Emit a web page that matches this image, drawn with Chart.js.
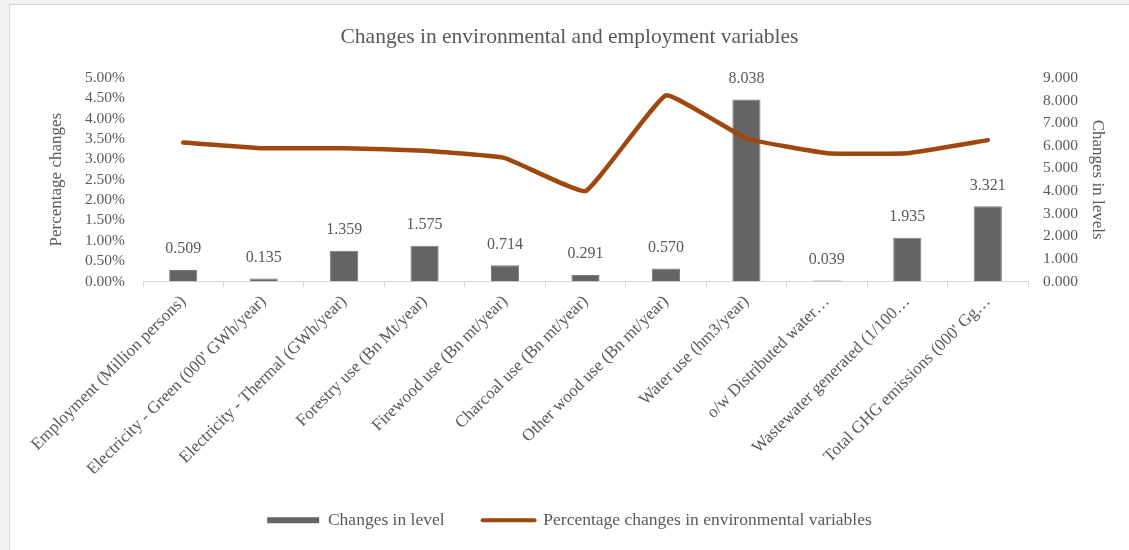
<!DOCTYPE html>
<html>
<head>
<meta charset="utf-8">
<script src="https://cdn.jsdelivr.net/npm/chart.js@4.4.1/dist/chart.umd.min.js"></script>
<style>
  html, body { margin: 0; padding: 0; background: #f2f2f2; width: 1129px; height: 550px; overflow: hidden; }
  #wrap { position: absolute; left: 9px; top: 4px; width: 1120px; height: 546px; background: #ffffff; border-left: 1px solid #d4d4d4; border-top: 1px solid #d4d4d4; box-sizing: border-box; }
  canvas { position: absolute; left: 0; top: 0; }
</style>
</head>
<body>
<div id="wrap"><canvas id="c" width="1119" height="545"></canvas></div>
<script>
const categories = [
  "Employment (Million persons)",
  "Electricity - Green (000' GWh/year)",
  "Electricity - Thermal (GWh/year)",
  "Forestry use (Bn Mt/year)",
  "Firewood use (Bn mt/year)",
  "Charcoal use (Bn mt/year)",
  "Other wood use (Bn mt/year)",
  "Water use (hm3/year)",
  "o/w Distributed water\u2026",
  "Wastewater generated (1/100\u2026",
  "Total GHG emissions (000' Gg\u2026"
];
const levelChanges = [0.509, 0.135, 1.359, 1.575, 0.714, 0.291, 0.570, 8.038, 0.039, 1.935, 3.321];
const percentChanges = [3.41, 3.27, 3.27, 3.21, 3.03, 2.22, 4.57, 3.51, 3.15, 3.15, 3.47];
const leftTicks = [0, 0.5, 1, 1.5, 2, 2.5, 3, 3.5, 4, 4.5, 5];
const rightTicks = [0, 1, 2, 3, 4, 5, 6, 7, 8, 9];

const TEXT = '#595959';
const FONT = "'Liberation Serif', 'DejaVu Serif', serif";
const BAR = '#646464';
const LINE = '#9E480E';

const barLabels = {
  id: 'barLabels',
  afterDatasetsDraw(chart) {
    const meta = chart.getDatasetMeta(1);
    const ctx = chart.ctx;
    ctx.save();
    ctx.font = "16px " + FONT;
    ctx.fillStyle = TEXT;
    ctx.textAlign = 'center';
    ctx.textBaseline = 'middle';
    meta.data.forEach((el, i) => {
      ctx.fillText(levelChanges[i].toFixed(3), el.x, el.y - 21);
    });
    ctx.restore();
  }
};

new Chart(document.getElementById('c'), {
  data: {
    labels: categories,
    datasets: [
      {
        type: 'line',
        label: 'Percentage changes in environmental variables',
        data: percentChanges,
        yAxisID: 'y',
        borderColor: LINE,
        backgroundColor: LINE,
        borderWidth: 4.5,
        pointRadius: 0,
        tension: 0.1,
        borderJoinStyle: 'round',
        borderCapStyle: 'round',
        order: 0
      },
      {
        type: 'bar',
        label: 'Changes in level',
        data: levelChanges,
        yAxisID: 'y1',
        backgroundColor: BAR,
        borderColor: '#7a7a7a',
        borderWidth: 1,
        categoryPercentage: 1,
        barPercentage: 0.35,
        order: 1
      }
    ]
  },
  options: {
    responsive: false,
    animation: false,
    layout: { padding: { left: 0, right: 0, top: 0, bottom: 11 } },
    plugins: {
      tooltip: { enabled: false },
      title: {
        display: true,
        text: 'Changes in environmental and employment variables',
        color: TEXT,
        font: { family: FONT, size: 21.5, weight: 'normal', lineHeight: 1.2 },
        padding: { top: 19, bottom: 28 }
      },
      legend: {
        position: 'bottom',
        reverse: true,
        labels: {
          color: TEXT,
          font: { family: FONT, size: 17.5 },
          usePointStyle: true,
          pointStyleWidth: 52,
          boxHeight: 6,
          padding: 38,
          generateLabels(chart) {
            const items = Chart.defaults.plugins.legend.labels.generateLabels(chart);
            items.forEach(it => {
              const ds = chart.data.datasets[it.datasetIndex];
              if (ds.type === 'line') {
                it.pointStyle = 'line';
                it.strokeStyle = LINE;
                it.fillStyle = LINE;
                it.lineWidth = 4;
                it.lineCap = 'round';
              } else {
                it.pointStyle = 'rect';
                it.fillStyle = BAR;
                it.strokeStyle = BAR;
                it.lineWidth = 0;
              }
            });
            return items;
          }
        }
      }
    },
    scales: {
      x: {
        type: 'category',
        offset: true,
        grid: { display: true, offset: true, drawOnChartArea: false, drawTicks: true, tickLength: 6, color: '#d9d9d9' },
        border: { display: true, color: '#d9d9d9', width: 1 },
        ticks: {
          autoSkip: false, maxRotation: 45, minRotation: 45,
          color: TEXT, font: { family: FONT, size: 17 }, padding: 4
        },
        afterFit(s) { s.height = 192; }
      },
      y: {
        type: 'linear',
        position: 'left',
        min: 0, max: 5,
        afterBuildTicks(s) { s.ticks = leftTicks.map(v => ({ value: v })); },
        grid: { display: false, drawTicks: false },
        border: { display: false },
        ticks: { autoSkip: false, color: TEXT, font: { family: FONT, size: 15.5 }, padding: 18, callback: v => v.toFixed(2) + '%' },
        title: { display: true, text: 'Percentage changes', color: TEXT, font: { family: FONT, size: 17 }, padding: { top: 36, bottom: 0 } },
        afterFit(s) { s.width = 133; }
      },
      y1: {
        type: 'linear',
        position: 'right',
        min: 0, max: 9,
        afterBuildTicks(s) { s.ticks = rightTicks.map(v => ({ value: v })); },
        grid: { display: false, drawTicks: false },
        border: { display: false },
        ticks: { autoSkip: false, color: TEXT, font: { family: FONT, size: 15.5 }, padding: 15, callback: v => v.toFixed(3) },
        title: { display: true, text: 'Changes in levels', color: TEXT, font: { family: FONT, size: 17 }, padding: { top: 21, bottom: 0 } },
        afterFit(s) { s.width = 101; }
      }
    }
  },
  plugins: [barLabels]
});
</script>
</body>
</html>
